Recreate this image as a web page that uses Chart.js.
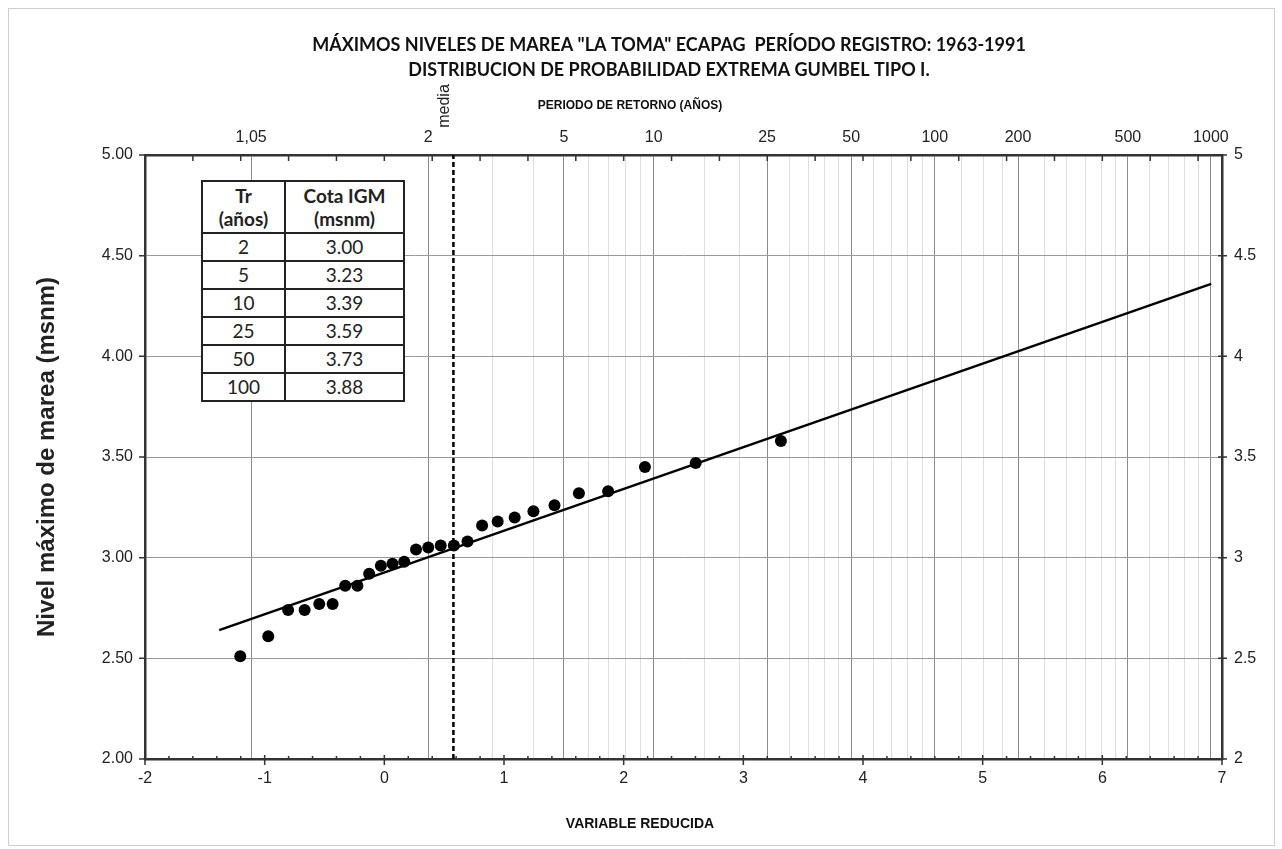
<!DOCTYPE html>
<html>
<head>
<meta charset="utf-8">
<script src="https://cdn.jsdelivr.net/npm/chart.js@4.4.1/dist/chart.umd.min.js"></script>
<style>
  html, body { margin: 0; padding: 0; background: #fff; }
  #wrap { position: relative; width: 1282px; height: 849px; }
  #tabla { position: absolute; left: 201px; top: 180px; border-collapse: collapse; background: #fff;
           font-family: Lato, "Open Sans", sans-serif; font-size: 19px; color: #222; }
  #tabla td, #tabla th { border: 2px solid #222; text-align: center; padding: 0; height: 26px; line-height: 22px; }
  #tabla th { font-weight: bold; height: 50px; line-height: 23px; }
</style>
</head>
<body>
<div id="wrap">
  <canvas id="gumbelChart" width="1282" height="849"></canvas>
  <table id="tabla"></table>
</div>
<script>
// Gumbel plot data (variable reducida vs nivel máximo)
const reducedVar = [-1.204, -0.970, -0.804, -0.666, -0.544, -0.432, -0.327, -0.225, -0.127, -0.029,
                    0.068, 0.166, 0.265, 0.367, 0.471, 0.581, 0.695, 0.817, 0.947, 1.089,
                    1.246, 1.422, 1.626, 1.870, 2.178, 2.602, 3.314];
const tideLevel = [2.51, 2.61, 2.74, 2.74, 2.77, 2.77, 2.86, 2.86, 2.92, 2.96,
                   2.97, 2.98, 3.04, 3.05, 3.06, 3.06, 3.08, 3.16, 3.18, 3.20,
                   3.23, 3.26, 3.32, 3.33, 3.45, 3.47, 3.58];

// fitted Gumbel line
const fitX = [-1.38, 6.91];
const fitY = [2.64, 4.36];
const mediaX = 0.5772;

// return periods on the top axis
const periodMajor = [1.05, 2, 5, 10, 25, 50, 100, 200, 500, 1000];
const periodLabels = ['1,05', '2', '5', '10', '25', '50', '100', '200', '500', '1000'];
const periodMinor = [3, 4, 6, 7, 8, 9, 15, 20, 30, 35, 40, 45, 60, 70, 80, 90,
                     125, 150, 175, 250, 300, 350, 400, 450, 600, 700, 800, 900];

// table
const tableTr = ['2', '5', '10', '25', '50', '100'];
const tableCota = ['3.00', '3.23', '3.39', '3.59', '3.73', '3.88'];

const mainTitle = ['MÁXIMOS NIVELES DE MAREA "LA TOMA" ECAPAG  PERÍODO REGISTRO: 1963-1991',
                   'DISTRIBUCION DE PROBABILIDAD EXTREMA GUMBEL TIPO I.'];

// build the table
const tabla = document.getElementById('tabla');
let html = '<tr><th style="width:81px">Tr<br>(años)</th><th style="width:117px">Cota IGM<br>(msnm)</th></tr>';
tableTr.forEach((tr, i) => {
    html += '<tr><td>' + tr + '</td><td>' + tableCota[i] + '</td></tr>';
});
tabla.innerHTML = html;

// reduced variate for a return period (axis transform)
const gumbel = T => -Math.log(-Math.log(1 - 1 / T));

const topTicks = periodMajor.map((T, i) => ({ value: gumbel(T), label: periodLabels[i], major: true }))
    .concat(periodMinor.map(T => ({ value: gumbel(T), label: '', major: false })))
    .sort((a, b) => a.value - b.value);

const tickFont = { family: 'Liberation Sans', size: 16 };

// extra drawing: frame, crossing tick marks, titles
const decor = {
    id: 'decor',
    beforeDraw(chart) {
        const ctx = chart.ctx;
        ctx.save();
        ctx.fillStyle = '#fff';
        ctx.fillRect(0, 0, chart.width, chart.height);
        ctx.strokeStyle = '#cfcfcf';
        ctx.lineWidth = 1;
        ctx.strokeRect(8.5, 8.5, chart.width - 16, chart.height - 12);
        ctx.restore();
    },
    afterDraw(chart) {
        const { ctx, chartArea: a, scales } = chart;
        ctx.save();
        ctx.strokeStyle = '#333';
        ctx.lineWidth = 1.5;
        ctx.beginPath();
        // bottom axis, minor every 0.2
        for (let i = 0; i <= 45; i++) {
            const px = scales.x.getPixelForValue(-2 + i * 0.2);
            const major = i % 5 === 0;
            ctx.moveTo(px, a.bottom - (major ? 4 : 3));
            ctx.lineTo(px, a.bottom + (major ? 6 : 1));
        }
        // top axis every 0.4
        for (let i = 0; i <= 22; i++) {
            const px = scales.x.getPixelForValue(-2 + i * 0.4);
            ctx.moveTo(px, a.top - 1);
            ctx.lineTo(px, a.top + 6);
        }
        // left / right axis
        for (let i = 0; i <= 6; i++) {
            const py = scales.y.getPixelForValue(2 + i * 0.5);
            ctx.moveTo(a.left - 6, py);
            ctx.lineTo(a.left + 1, py);
            ctx.moveTo(a.right - 4, py);
            ctx.lineTo(a.right + 5, py);
        }
        ctx.stroke();

        ctx.fillStyle = '#111';
        ctx.textAlign = 'center';
        ctx.textBaseline = 'middle';
        ctx.font = 'bold 18px Lato';
        ctx.fillText(mainTitle[0], 669, 45);
        ctx.fillText(mainTitle[1], 669, 70);

        ctx.font = 'bold 12px "Liberation Sans"';
        ctx.fillText('PERIODO DE RETORNO (AÑOS)', 630, 106);
        ctx.font = 'bold 14px "Liberation Sans"';
        ctx.fillText('VARIABLE REDUCIDA', 640, 824);

        // media label
        ctx.translate(scales.x.getPixelForValue(mediaX) - 1, 106);
        ctx.rotate(-Math.PI / 2);
        ctx.textBaseline = 'bottom';
        ctx.font = '16px "Liberation Sans"';
        ctx.fillStyle = '#222';
        ctx.fillText('media', 0, 0);
        ctx.restore();
    }
};

const ctxGumbel = document.getElementById('gumbelChart').getContext('2d');
const gumbelChart = new Chart(ctxGumbel, {
    type: 'scatter',
    data: {
        datasets: [{
            label: 'Observados',
            data: reducedVar.map((x, i) => ({ x: x, y: tideLevel[i] })),
            backgroundColor: '#000',
            borderWidth: 0,
            pointRadius: 6
        }, {
            label: 'Gumbel',
            type: 'line',
            data: fitX.map((x, i) => ({ x: x, y: fitY[i] })),
            borderColor: '#000',
            borderWidth: 2.5,
            pointRadius: 0,
            fill: false
        }, {
            label: 'media',
            type: 'line',
            data: [{ x: mediaX, y: 2 }, { x: mediaX, y: 5 }],
            borderColor: '#000',
            borderWidth: 2.5,
            borderDash: [5, 3],
            pointRadius: 0,
            fill: false
        }]
    },
    options: {
        responsive: false,
        animation: false,
        devicePixelRatio: 1,
        layout: { padding: { top: 91, left: 0, right: 0, bottom: 0 } },
        plugins: {
            legend: { display: false },
            tooltip: { enabled: false },
            title: { display: false }
        },
        scales: {
            x: {
                type: 'linear', position: 'bottom', min: -2, max: 7,
                afterFit: s => { s.height = 90; },
                ticks: { stepSize: 1, padding: 10, font: tickFont, color: '#222' },
                grid: { drawOnChartArea: false, drawTicks: false },
                border: { color: '#333', width: 2.5 }
            },
            xT: {
                type: 'linear', position: 'top', min: -2, max: 7,
                afterBuildTicks: s => { s.ticks = topTicks.map(t => ({ value: t.value })); },
                afterFit: s => { s.height = 64; },
                ticks: {
                    autoSkip: false, maxRotation: 0, padding: 8, font: tickFont, color: '#222',
                    callback: (v, i) => topTicks[i].label
                },
                grid: {
                    drawTicks: false, lineWidth: 1,
                    color: c => (topTicks[c.index] && topTicks[c.index].major) ? '#8c8c8c' : '#dedede'
                },
                border: { color: '#333', width: 2.5 }
            },
            y: {
                type: 'linear', position: 'left', min: 2, max: 5,
                afterFit: s => { s.width = 145; },
                ticks: { stepSize: 0.5, padding: 12, font: tickFont, color: '#222', callback: v => v.toFixed(2) },
                grid: { color: '#9a9a9a', drawTicks: false },
                border: { color: '#333', width: 2.5 },
                title: {
                    display: true, text: 'Nivel máximo de marea (msnm)', color: '#222',
                    font: { family: 'Liberation Sans', size: 24, weight: 'bold' },
                    padding: { top: 33, bottom: 0 }
                }
            },
            y2: {
                type: 'linear', position: 'right', min: 2, max: 5,
                afterFit: s => { s.width = 60; },
                ticks: { stepSize: 0.5, padding: 12, font: tickFont, color: '#222', callback: v => String(v) },
                grid: { drawOnChartArea: false, drawTicks: false },
                border: { color: '#333', width: 2.5 }
            }
        }
    },
    plugins: [decor]
});
</script>
</body>
</html>
